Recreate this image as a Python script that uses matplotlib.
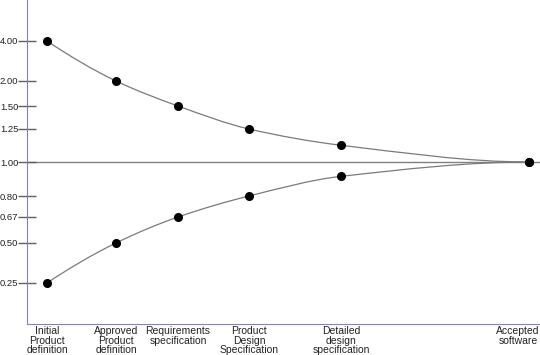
import numpy as np
import matplotlib
matplotlib.use("Agg")
import matplotlib.pyplot as plt
import matplotlib.transforms as mtransforms
from matplotlib.path import Path
from matplotlib.patches import PathPatch

plt.rcParams['font.family'] = ['Liberation Sans', 'DejaVu Sans']

# project phases and where they fall along the timeline
phases = ["Initial\nProduct\ndefinition", "Approved\nProduct\ndefinition",
          "Requirements\nspecification", "Product\nDesign\nSpecification",
          "Detailed\ndesign\nspecification", "Accepted\nsoftware"]
phase_time = [0, 69, 131, 202, 294, 482]

# estimate multipliers (high / low bound)
upper = [4.00, 2.00, 1.50, 1.25, 1.12, 1.00]
lower = [0.25, 0.50, 0.67, 0.80, 0.91, 1.00]

tick_vals = [0.25, 0.50, 0.67, 0.80, 1.00, 1.25, 1.50, 2.00, 4.00]
tick_labels = ["0.25", "0.50", "0.67", "0.80", "1.00", "1.25", "1.50", "2.00", "4.00"]

# the chart's vertical axis is hand spaced, not logarithmic
knot_vals = np.log([0.1, 0.25, 0.50, 0.67, 0.80, 1.00, 1.25, 1.50, 2.00, 4.00, 10.0])
knot_pos = np.array([-175, -121, -81, -55, -34, 0, 33, 56, 81, 121, 175], float)


def fwd(v):
    return np.interp(np.log(np.clip(v, 1e-6, None)), knot_vals, knot_pos)


def inv(p):
    return np.exp(np.interp(p, knot_pos, knot_vals))


def smooth_path(xs, ys):
    # hermite cubic through the points, written as bezier segments
    xs = np.asarray(xs, float)
    ys = np.asarray(ys, float)
    n = len(xs)
    h = np.diff(xs)
    d = np.diff(ys) / h
    m = np.zeros(n)
    m[0] = d[0] * 1.15
    for i in range(1, n - 1):
        # harmonic mean keeps it monotone
        m[i] = 2 / (1 / d[i - 1] + 1 / d[i]) if d[i - 1] * d[i] > 0 else 0
    m[-1] = 0.0
    verts = [(xs[0], ys[0])]
    codes = [Path.MOVETO]
    for i in range(n - 1):
        verts += [(xs[i] + h[i] / 3, ys[i] + m[i] * h[i] / 3),
                  (xs[i + 1] - h[i] / 3, ys[i + 1] - m[i + 1] * h[i] / 3),
                  (xs[i + 1], ys[i + 1])]
        codes += [Path.CURVE4] * 3
    return Path(verts, codes)


fig = plt.figure(figsize=(5.4, 3.55), dpi=100)
ax = fig.add_axes([27 / 540, 1 - 324 / 355, 1 - 27 / 540, 324 / 355])
ax.set_yscale('function', functions=(fwd, inv))
ax.set_xlim(-20, 493)
ax.set_ylim(inv(-162), inv(162))

ax.axhline(1.0, color='#808080', lw=1, zorder=1)

# draw the curves in scaled space so the bezier follows the axis spacing
scaled = ax.transLimits + ax.transAxes
for series in (upper, lower):
    ys = ax.yaxis.get_transform().transform(np.array(series))
    ax.add_patch(PathPatch(smooth_path(phase_time, ys), fill=False,
                           edgecolor='#7a7a7a', lw=0.9, transform=scaled, zorder=2))
    ax.plot(phase_time, series, 'o', color='black', ms=5.5, zorder=3)

ax.set_yticks(tick_vals)
ax.set_yticklabels(tick_labels)
ax.yaxis.set_minor_locator(matplotlib.ticker.NullLocator())
ax.tick_params(axis='y', direction='inout', length=12.5, width=1,
               color='#606060', labelsize=6.8, pad=0, labelcolor='#222222')

ax.set_xticks(phase_time)
ax.set_xticklabels(phases, linespacing=0.95)
ax.tick_params(axis='x', length=0, labelsize=7.5, pad=1.5, labelcolor='#222222')
last = ax.get_xticklabels()[-1]
last.set_transform(last.get_transform() +
                   mtransforms.ScaledTranslation(-11 / 100, 0, fig.dpi_scale_trans))

for s in ('top', 'right'):
    ax.spines[s].set_visible(False)
ax.spines['left'].set_color('#8080b8')
ax.spines['bottom'].set_color('#8080d8')

fig.savefig('out.png', dpi=100)
